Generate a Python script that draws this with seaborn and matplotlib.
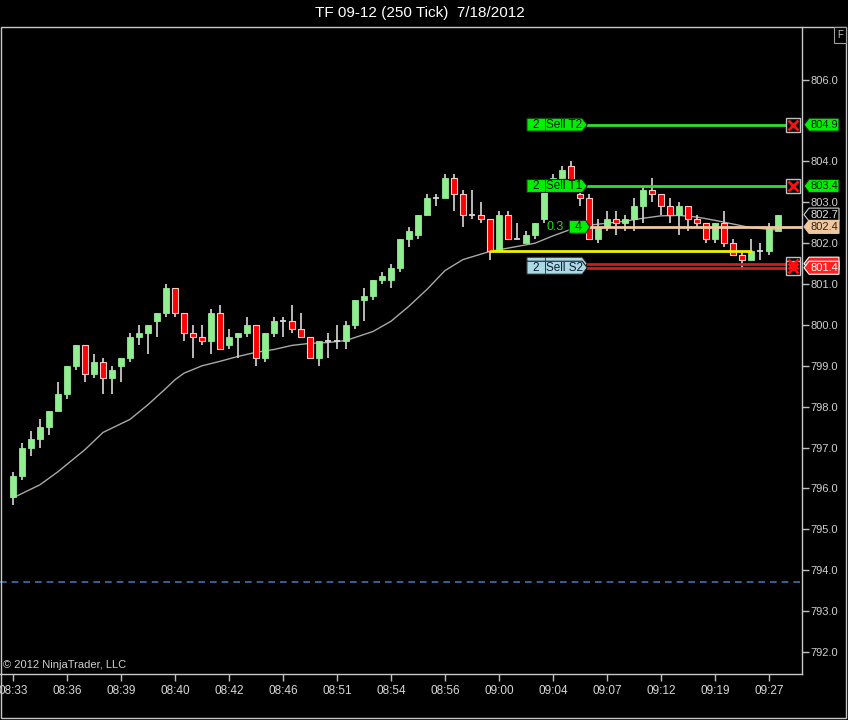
import matplotlib
matplotlib.use("Agg")
import matplotlib.pyplot as plt
import matplotlib.transforms as mtrans
from matplotlib.patches import Polygon, Rectangle
import numpy as np
import pandas as pd
import seaborn as sns

# ---------------- data ----------------
opens = [795.8, 796.3, 797.0, 797.2, 797.5, 797.9, 798.3, 799.0, 799.5, 798.8,
         799.1, 798.7, 799.0, 799.2, 799.7, 799.8, 800.1, 800.3, 800.9, 800.3,
         799.8, 799.7, 799.6, 800.3, 799.5, 799.7, 799.8, 800.0, 799.2, 799.8,
         800.1, 800.1, 799.9, 799.7, 799.2, 799.6, 799.6, 799.6, 800.0, 800.6,
         800.7, 801.1, 801.1, 801.4, 802.1, 802.2, 802.7, 803.1, 803.1, 803.6,
         803.2, 802.7, 802.7, 802.6, 801.8, 802.7, 802.1, 802.0, 802.2, 802.6,
         803.4, 803.6, 803.9, 803.2, 803.1, 802.1, 802.4, 802.6, 802.5, 802.6,
         802.9, 803.3, 803.2, 802.9, 802.7, 802.9, 802.6, 802.5, 802.1, 802.5,
         802.0, 801.7, 801.6, 801.8, 801.8, 802.3]
highs = [796.4, 797.1, 797.4, 797.7, 797.9, 798.6, 799.0, 799.5, 799.5, 799.3,
         799.2, 799.0, 799.2, 799.8, 800.0, 800.0, 800.3, 801.0, 800.9, 800.3,
         800.0, 800.0, 800.4, 800.5, 799.9, 799.8, 800.2, 800.0, 799.8, 800.2,
         800.2, 800.5, 800.3, 799.7, 799.6, 799.8, 800.0, 800.1, 800.6, 800.9,
         801.1, 801.3, 801.5, 802.1, 802.4, 802.7, 803.2, 803.2, 803.7, 803.7,
         803.3, 803.3, 803.0, 802.6, 802.8, 802.8, 802.5, 802.3, 802.5, 803.5,
         803.7, 803.9, 804.0, 803.3, 803.2, 802.6, 802.8, 802.8, 802.7, 803.1,
         803.4, 803.6, 803.2, 803.1, 803.0, 802.9, 802.7, 802.5, 802.5, 802.8,
         802.1, 801.8, 802.1, 802.0, 802.5, 802.7]
lows = [795.6, 796.2, 796.8, 797.0, 797.3, 797.9, 798.2, 798.9, 798.6, 798.7,
        798.3, 798.3, 798.6, 799.1, 799.5, 799.3, 799.7, 800.2, 800.2, 799.6,
        799.2, 799.5, 799.3, 799.4, 799.4, 799.2, 799.7, 799.0, 799.1, 799.7,
        799.7, 799.8, 799.7, 799.2, 799.0, 799.2, 799.4, 799.4, 799.9, 800.1,
        800.6, 801.0, 800.9, 801.3, 801.9, 802.1, 802.7, 802.9, 803.1, 802.8,
        802.4, 802.6, 802.5, 801.6, 801.8, 802.1, 802.1, 802.0, 802.1, 802.5,
        803.3, 803.5, 803.3, 802.9, 802.1, 802.0, 802.3, 802.2, 802.3, 802.3,
        802.5, 803.0, 802.7, 802.5, 802.2, 802.3, 802.4, 802.0, 802.0, 801.9,
        801.7, 801.4, 801.6, 801.6, 801.7, 802.3]
closes = [796.3, 797.0, 797.2, 797.5, 797.9, 798.3, 799.0, 799.5, 798.8, 799.1,
          798.7, 798.9, 799.2, 799.7, 799.8, 800.0, 800.3, 800.9, 800.3, 799.8,
          799.7, 799.6, 800.3, 799.4, 799.7, 799.8, 800.0, 799.2, 799.8, 800.1,
          800.1, 799.9, 799.7, 799.2, 799.6, 799.6, 799.6, 800.0, 800.6, 800.7,
          801.1, 801.2, 801.4, 802.1, 802.3, 802.7, 803.1, 803.1, 803.6, 803.2,
          802.7, 802.7, 802.6, 801.8, 802.7, 802.1, 802.1, 802.2, 802.5, 803.4,
          803.6, 803.8, 803.4, 803.1, 802.1, 802.4, 802.6, 802.5, 802.6, 802.9,
          803.3, 803.2, 802.9, 802.7, 802.9, 802.6, 802.5, 802.1, 802.5, 802.0,
          801.7, 801.6, 801.8, 801.8, 802.4, 802.7]

ma_bars = [0, 3, 5, 8, 10, 13, 15, 17, 18, 19, 21, 23, 25, 27, 29, 31, 33, 35,
           37, 40, 42, 44, 46, 48, 50, 53, 55, 58, 60, 62, 64, 66, 68, 70, 72,
           74, 76, 78, 80, 82, 85]
ma_vals = [795.77, 796.09, 796.41, 796.95, 797.37, 797.69, 798.05, 798.45,
           798.66, 798.82, 799.00, 799.11, 799.23, 799.33, 799.40, 799.50,
           799.55, 799.57, 799.62, 799.84, 800.09, 800.46, 800.87, 801.33,
           801.60, 801.80, 801.88, 802.00, 802.18, 802.34, 802.44, 802.49,
           802.54, 802.61, 802.67, 802.68, 802.64, 802.56, 802.47, 802.38,
           802.32]

tick_bars = [0, 6, 12, 18, 24, 30, 36, 42, 48, 54, 60, 66, 72, 78, 84]
tick_labels = ["08:33", "08:36", "08:39", "08:40", "08:42", "08:46", "08:51",
               "08:54", "08:56", "09:00", "09:04", "09:07", "09:12", "09:19",
               "09:27"]
price_ticks = [792.0, 793.0, 794.0, 795.0, 796.0, 797.0, 798.0, 799.0,
               800.0, 801.0, 802.0, 803.0, 804.0, 806.0]

target_prices = [804.9, 803.4]
target_names = ["Sell T2", "Sell T1"]
stop_prices = [801.5, 801.4]
stop_name = "Sell S2"
order_qty = "2"
entry_price = 802.4
entry_qty = "4"
pnl_text = "0.3"
yellow_price = 801.8
yellow_start, yellow_end = 53, 82
last_price = closes[-1]
dashed_price = 793.7

title = "TF 09-12 (250 Tick)  7/18/2012"
copyright_txt = "\u00a9 2012 NinjaTrader, LLC"

# ---------------- style ----------------
sns.set_theme(style="dark")
plt.rcParams["font.family"] = ["Liberation Sans", "DejaVu Sans"]
NARROW = ["Liberation Sans Narrow", "Liberation Sans", "DejaVu Sans"]

W, H = 848, 720
fig = plt.figure(figsize=(W / 100, H / 100), dpi=100, facecolor="black")
ax = fig.add_axes([0 / W, 1 - 674 / H, 802 / W, (674 - 27) / H])
ax.set_facecolor("black")

ymin, ymax = 791.46, 807.29
ax.set_ylim(ymin, ymax)
ax.set_xlim(-1.444, 87.67)
ppu = (674 - 27) / (ymax - ymin)  # pixels per price unit
h = 6.5 / ppu

GREEN_C = "#90ee90"
RED_C = "#ff0000"
bars = np.arange(len(opens))
df = pd.DataFrame({"bar": bars, "open": opens, "high": highs,
                   "low": lows, "close": closes})

# moving average line
ma_df = pd.DataFrame({"bar": ma_bars, "ma": ma_vals})
sns.lineplot(data=ma_df, x="bar", y="ma", ax=ax, color="#a8a8a8",
             linewidth=1.0, zorder=2)

# wicks
ax.vlines(df["bar"], df["low"], df["high"], color="#c8c8c8", lw=1.3, zorder=3)
# bodies
bw = 0.7
for _, r in df.iterrows():
    o, c = r["open"], r["close"]
    if abs(c - o) < 0.05:
        ax.hlines(o, r["bar"] - bw / 2, r["bar"] + bw / 2, color="#d8d8d8",
                  lw=1.3, zorder=4)
    elif c > o:
        ax.bar(r["bar"], c - o, bottom=o, width=bw, color=GREEN_C,
               edgecolor=GREEN_C, lw=0.6, zorder=4)
    else:
        ax.bar(r["bar"], o - c, bottom=c, width=bw, color=RED_C,
               edgecolor="#ffc8c8", lw=0.8, zorder=4)

# dashed line
ax.axhline(dashed_price, color="#3b6fc0", lw=1.2, ls=(0, (4, 3)), zorder=2)

# helper for right pointing tags (data coords)
def tag_right(x0, x1, y, fc, ec="#202020", tip=0.55, z=7):
    pts = [(x0, y - h), (x1 - tip, y - h), (x1, y), (x1 - tip, y + h), (x0, y + h)]
    ax.add_patch(Polygon(pts, closed=True, fc=fc, ec=ec, lw=0.8, zorder=z))

lab_x0, lab_split, lab_x1 = 57.1, 59.1, 63.8
line_end = 86.0
blend = mtrans.blended_transform_factory(ax.transAxes, ax.transData)
box_ax_x = 793 / 802

def xbox(y):
    ax.plot([box_ax_x], [y], marker="s", ms=10, mfc="black", mec="#c0c0c0",
            mew=1, transform=blend, zorder=9, clip_on=False)
    ax.plot([box_ax_x], [y], marker="x", ms=7, mec="#ff1010", mew=2,
            transform=blend, zorder=10, clip_on=False)

def order_tag(y, name, fc, tc="#002000", with_text=True):
    tag_right(lab_x0, lab_x1, y, fc)
    ax.plot([lab_split, lab_split], [y - h, y + h], color="#303030", lw=0.6,
            zorder=8)
    if with_text:
        ax.text((lab_x0 + lab_split) / 2, y, order_qty, ha="center",
                va="center", fontsize=8.5, color=tc, zorder=9)
        ax.text((lab_split + lab_x1 - 0.4) / 2, y, name, ha="center",
                va="center", fontsize=8.5, color=tc, zorder=9)

# target lines
for p, n in zip(target_prices, target_names):
    ax.plot([lab_x1, line_end], [p, p], color="#33dd33", lw=2, zorder=6)
    order_tag(p, n, "#00ee00")
    xbox(p)

# yellow line
ax.plot([yellow_start, yellow_end], [yellow_price, yellow_price],
        color="#f0f000", lw=2, zorder=6)

# stop lines
for p in stop_prices:
    ax.plot([lab_x1, line_end], [p, p], color="#c82020", lw=2, zorder=6)
order_tag(stop_prices[0], stop_name, "#add8e6", tc="#102030", with_text=False)
order_tag(stop_prices[1], stop_name, "#add8e6", tc="#102030")
xbox(stop_prices[0])
xbox(stop_prices[1])

# entry line
ax.plot([64.1, 87.67], [entry_price, entry_price], color="#f0c8a0", lw=2,
        zorder=6)
tag_right(61.8, 64.1, entry_price, "#00ee00", tip=0.45)
ax.text(62.8, entry_price, entry_qty, ha="center", va="center", fontsize=9,
        color="#002000", zorder=9)
ax.text(60.2, entry_price, pnl_text, ha="center", va="center", fontsize=9,
        color="#22dd22", zorder=9)

# right axis tags (axes x, data y)
ax0 = 804 / 802
ax1 = 839 / 802
tipw = 5 / 802

def tag_left(y, txt, fc, tc, ec, with_text=True):
    pts = [(ax0, y), (ax0 + tipw, y - h), (ax1, y - h), (ax1, y + h),
           (ax0 + tipw, y + h)]
    ax.add_patch(Polygon(pts, closed=True, fc=fc, ec=ec, lw=0.8,
                         transform=blend, clip_on=False, zorder=11))
    if with_text:
        ax.text((ax0 + tipw + ax1) / 2, y, txt, transform=blend,
                ha="center", va="center", fontsize=8, color=tc, zorder=12,
                clip_on=False)

for p in target_prices:
    tag_left(p, f"{p:.1f}", "#00ee00", "#002000", "#202020")
tag_left(last_price, f"{last_price:.1f}", "black", "#e0e0e0", "#d0d0d0")
tag_left(entry_price, f"{entry_price:.1f}", "#f0c8a0", "#302010", "#f0c8a0")
tag_left(stop_prices[0], f"{stop_prices[0]:.1f}", "#ff2020", "white", "white",
         with_text=False)
tag_left(stop_prices[1], f"{stop_prices[1]:.1f}", "#ff2020", "white", "white")

# axes formatting
ax.yaxis.tick_right()
ax.set_yticks(price_ticks)
ax.set_yticklabels([f"{t:.1f}" for t in price_ticks], fontsize=8,
                   color="#d0d0d0")
ax.set_xticks(tick_bars)
ax.set_xticklabels(tick_labels, fontsize=8.5, color="#d8d8d8", family=NARROW)
ax.tick_params(axis="y", direction="out", length=5, width=1, colors="#c0c0c0",
               pad=1, labelcolor="#d0d0d0", right=True, left=False)
ax.tick_params(axis="x", direction="out", length=5, width=1, colors="#c0c0c0",
               pad=3, labelcolor="#d8d8d8", bottom=True)
ax.set_xlabel("")
ax.set_ylabel("")
ax.grid(False)
for s in ["left", "top"]:
    ax.spines[s].set_visible(False)
for s in ["right", "bottom"]:
    ax.spines[s].set_visible(True)
    ax.spines[s].set_color("#c8c8c8")
    ax.spines[s].set_linewidth(1)

ax.text(0.004, 0.006, copyright_txt, transform=ax.transAxes, ha="left",
        va="bottom", fontsize=8, color="#d0d0d0", family=NARROW, zorder=12)

# figure panel border and title
fig.patches.append(Rectangle((1 / W, 1 - 718 / H), 845 / W, (718 - 27) / H,
                             transform=fig.transFigure, fill=False,
                             ec="#c8c8c8", lw=1))
fig.text(420 / W, 1 - 13 / H, title, ha="center", va="center", fontsize=11,
         color="white")
fig.text(840 / W, 1 - 35 / H, "F", ha="center", va="center", fontsize=7,
         color="#c0c0c0",
         bbox=dict(boxstyle="square,pad=0.3", fc="black", ec="#a0a0a0",
                   lw=0.8))

fig.savefig("out.png", dpi=100, facecolor="black")
